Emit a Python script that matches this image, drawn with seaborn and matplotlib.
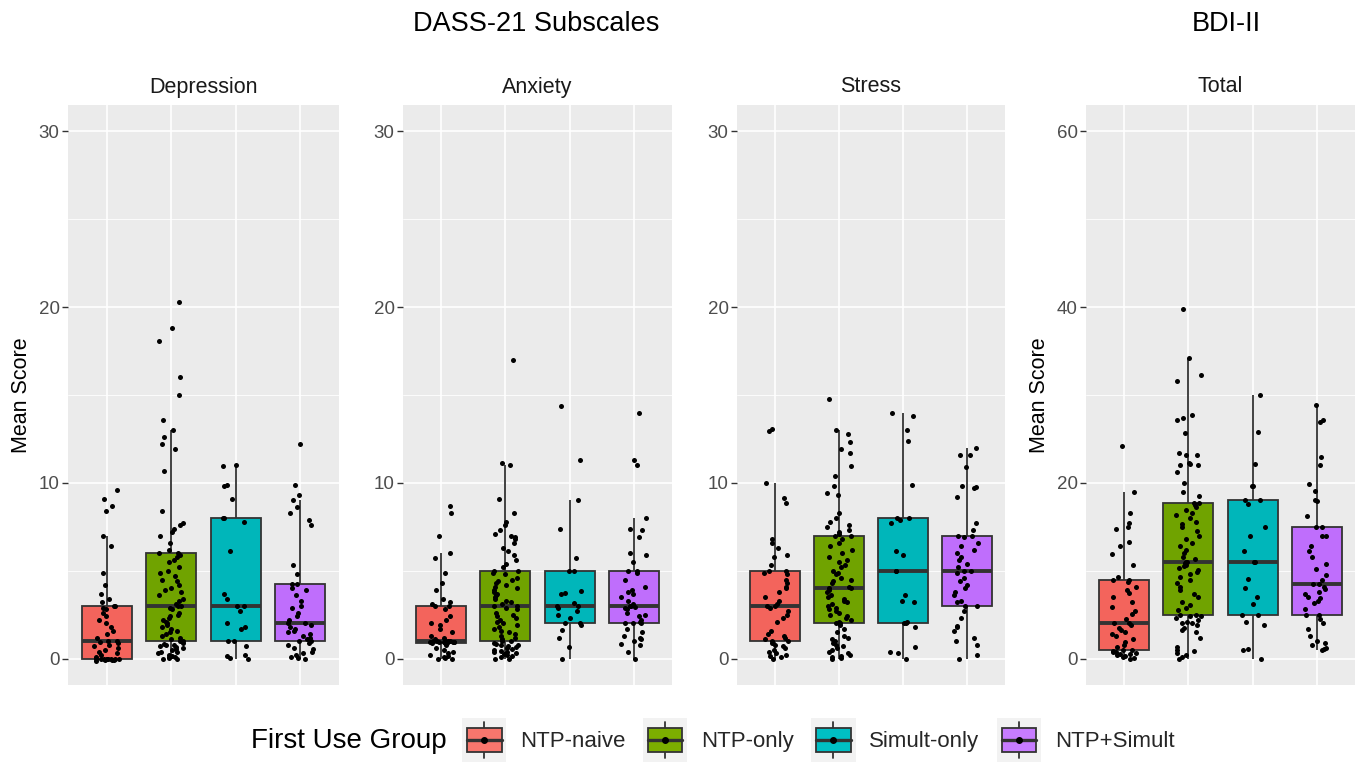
import numpy as np
import pandas as pd
import matplotlib
matplotlib.use("Agg")
import matplotlib.pyplot as plt
import seaborn as sns
from matplotlib.patches import Patch, Rectangle
from matplotlib.lines import Line2D
from matplotlib.legend_handler import HandlerBase

# groups / colours (ggplot default hue palette)
groups = ['NTP-naive', 'NTP-only', 'Simult-only', 'NTP+Simult']
colors = ['#F8766D', '#7CAE00', '#00BFC4', '#C77CFF']
box_colors = ['#F3645C', '#70A300', '#00B6BA', '#BF6EFC']

panels = ['Depression', 'Anxiety', 'Stress', 'Total']

# values (one list per panel and group)
dep_naive = [-0.12, -0.1, -0.08, -0.05, -0.03, 0.0, 0.0, 0.0, 0.0, 0.0, 0.0, 0.0, 0.0,
             0.1, 0.2, 0.3, 0.35, 0.5, 0.6, 0.7, 0.8, 0.9, 0.95, 1.0, 1.0,
             1.2, 1.4, 1.6, 1.8, 2.0, 2.2, 2.4, 2.6, 2.8, 2.9, 3.0, 3.0,
             3.2, 3.4, 3.7, 4.2, 4.9, 6.4, 7.0, 8.4, 8.7, 9.1, 9.6]
dep_only = [0.0, 0.0, 0.05, 0.1, 0.1, 0.15, 0.2, 0.3, 0.35, 0.4, 0.5, 0.55, 0.6, 0.65, 0.7, 0.75, 0.8, 0.85, 0.9,
            1.0, 1.0,
            1.1, 1.2, 1.3, 1.4, 1.5, 1.6, 1.7, 1.8, 1.9, 2.0, 2.1, 2.2, 2.3, 2.4, 2.5, 2.6, 2.8, 2.9,
            3.0, 3.0,
            3.1, 3.3, 3.4, 3.6, 3.8, 3.9, 4.0, 4.2, 4.4, 4.5, 4.7, 4.9, 5.0, 5.2, 5.5, 5.6, 5.8, 5.9,
            6.0, 6.0,
            6.2, 6.6, 7.0, 7.2, 7.4, 7.6, 7.7, 8.4, 10.7, 11.9, 12.2, 12.6, 13.0, 13.6, 15.0, 16.0, 18.1, 18.8, 20.3]
dep_simult = [0.0, 0.05, 0.15, 0.2, 0.7, 1.0, 1.0, 1.7, 1.8, 2.0, 2.7, 3.0, 3.0,
              3.4, 3.7, 6.1, 7.8, 8.0, 8.0, 9.1, 9.8, 9.9, 10.95, 11.0]
dep_both = [0.0, 0.05, 0.1, 0.2, 0.3, 0.4, 0.55, 0.6, 0.8, 0.9, 1.0, 1.0,
            1.1, 1.2, 1.3, 1.4, 1.5, 1.6, 1.7, 1.8, 1.9, 2.0, 2.0,
            2.2, 2.4, 2.6, 2.9, 3.0, 3.3, 3.6, 3.9, 4.0, 4.25, 4.25,
            4.8, 5.3, 7.6, 7.9, 8.3, 8.6, 9.0, 9.3, 9.9, 12.2]

anx_naive = [0.0, 0.0, 0.05, 0.1, 0.15, 0.2, 0.3, 0.4, 0.5, 0.6, 0.75, 0.9, 0.9,
             0.91, 0.92, 0.93, 0.94, 0.95, 0.96, 0.97, 0.98, 0.99, 0.99, 1.0, 1.0,
             1.1, 1.2, 1.3, 1.5, 1.7, 1.9, 2.0, 2.2, 2.4, 2.8, 3.0, 3.0,
             3.1, 3.2, 3.4, 3.9, 4.3, 4.9, 5.7, 6.0, 6.95, 8.3, 8.7]
anx_only = [0.0, 0.0, 0.1, 0.15, 0.2, 0.25, 0.3, 0.35, 0.4, 0.45, 0.5, 0.55, 0.6, 0.65, 0.7, 0.75, 0.8, 0.85, 0.9,
            1.0, 1.0,
            1.1, 1.2, 1.3, 1.4, 1.5, 1.6, 1.7, 1.8, 1.9, 2.0, 2.1, 2.2, 2.3, 2.4, 2.5, 2.6, 2.8, 2.9,
            3.0, 3.0,
            3.1, 3.2, 3.3, 3.4, 3.5, 3.6, 3.7, 3.8, 3.9, 4.0, 4.1, 4.2, 4.3, 4.4, 4.5, 4.6, 4.8, 4.9,
            5.0, 5.0,
            5.2, 5.4, 5.6, 5.9, 6.1, 6.3, 6.6, 6.8, 6.9, 7.0, 7.1, 7.3, 7.6, 7.8, 8.3, 9.1, 11.0, 11.15, 17.0]
anx_simult = [0.0, 0.65, 1.2, 1.65, 1.9, 2.0, 2.0, 2.3, 2.5, 2.7, 2.9, 3.0, 3.0,
              3.15, 3.65, 3.75, 3.85, 5.0, 5.0, 5.7, 7.35, 9.0, 11.3, 14.4]
anx_both = [0.0, 0.4, 0.8, 0.85, 1.0, 1.1, 1.2, 1.3, 1.5, 1.7, 2.0, 2.0,
            2.05, 2.1, 2.2, 2.4, 2.5, 2.6, 2.8, 2.9, 2.95, 3.0, 3.0,
            3.1, 3.3, 3.5, 3.7, 3.8, 3.9, 4.1, 4.5, 4.9, 5.0, 5.0,
            5.5, 5.9, 6.0, 6.9, 7.3, 7.4, 8.0, 11.0, 11.3, 14.0]

str_naive = [0.0, 0.1, 0.15, 0.2, 0.3, 0.35, 0.5, 0.6, 0.7, 0.8, 0.9, 1.0, 1.0,
             1.1, 1.2, 1.3, 1.4, 1.6, 2.1, 2.3, 2.5, 2.7, 2.9, 3.0, 3.0,
             3.1, 3.3, 3.5, 3.8, 4.0, 4.1, 4.3, 4.5, 4.8, 4.9, 5.0, 5.0,
             5.3, 5.8, 5.9, 6.3, 6.6, 6.8, 8.85, 9.15, 10.0, 12.97, 13.07]
str_only = [0.0, 0.05, 0.1, 0.15, 0.2, 0.3, 0.4, 0.5, 0.6, 0.7, 0.8, 0.9, 1.0, 1.1, 1.2, 1.3, 1.5, 1.7, 1.9,
            2.0, 2.0,
            2.1, 2.2, 2.3, 2.4, 2.5, 2.6, 2.7, 2.8, 2.9, 3.0, 3.1, 3.2, 3.3, 3.4, 3.5, 3.6, 3.8, 3.9,
            4.0, 4.0,
            4.1, 4.3, 4.4, 4.5, 4.6, 4.8, 4.9, 5.0, 5.2, 5.3, 5.5, 5.6, 5.8, 6.0, 6.2, 6.4, 6.6, 6.8,
            7.0, 7.0,
            7.1, 7.2, 7.3, 7.5, 7.6, 7.8, 8.0, 8.3, 9.3, 9.4, 9.8, 10.4, 10.95, 11.7, 11.9, 12.3, 12.8, 13.0, 14.8]
str_simult = [0.0, 0.3, 0.35, 0.65, 1.8, 2.0, 2.0, 2.1, 3.2, 3.3, 3.6, 5.0, 5.0,
              5.9, 6.1, 7.7, 7.9, 8.0, 8.0, 9.9, 12.4, 13.0, 13.8, 14.0]
str_both = [0.0, 0.2, 0.8, 1.0, 1.15, 1.6, 1.8, 1.85, 2.3, 2.7, 3.0, 3.0,
            3.2, 3.3, 3.6, 3.8, 4.0, 4.2, 4.4, 4.6, 4.9, 5.0, 5.0,
            5.2, 5.4, 5.6, 5.8, 6.0, 6.2, 6.4, 6.6, 6.9, 7.0, 7.0,
            7.3, 7.7, 9.2, 9.7, 9.75, 9.8, 10.9, 11.6, 11.6, 12.0]

bdi_naive = [0.0, 0.1, 0.2, 0.3, 0.4, 0.5, 0.5, 0.6, 0.7, 0.8, 0.9, 1.0, 1.0,
             1.3, 1.6, 1.9, 2.2, 2.6, 2.8, 3.0, 3.3, 3.5, 3.8, 4.0, 4.0,
             4.5, 5.1, 5.4, 5.9, 6.5, 7.0, 7.5, 7.8, 8.2, 8.7, 9.0, 9.0,
             9.3, 10.6, 11.9, 12.8, 13.3, 14.8, 15.0, 15.4, 16.6, 19.0, 24.2]
bdi_only = [0.0, 0.2, 0.4, 0.6, 0.9, 1.0, 1.3, 2.4, 3.0, 3.3, 3.5, 3.8, 4.0, 4.1, 4.2, 4.4, 4.6, 4.8, 4.9,
            5.0, 5.0,
            5.5, 5.8, 6.1, 6.5, 7.0, 7.3, 7.8, 8.2, 8.6, 9.0, 9.3, 9.6, 9.9, 10.1, 10.3, 10.5, 10.7, 10.9,
            11.0, 11.0,
            11.3, 11.6, 12.0, 12.4, 12.8, 13.2, 13.6, 14.0, 14.5, 15.0, 15.3, 15.6, 16.0, 16.3, 16.6, 16.9, 17.2, 17.5,
            17.7, 17.7,
            18.5, 19.0, 20.0, 21.2, 22.0, 22.0, 22.1, 22.3, 23.2, 23.2, 23.4, 25.7, 27.2, 27.4, 27.7, 31.6, 32.3, 34.2, 39.8]
bdi_simult = [0.0, 1.0, 1.1, 3.85, 4.2, 5.0, 5.0, 6.2, 7.05, 8.0, 9.05, 11.0, 11.0,
              12.2, 14.0, 15.0, 17.6, 18.0, 18.0, 19.7, 19.7, 22.2, 25.8, 30.0]
bdi_both = [1.0, 1.1, 1.2, 1.5, 1.8, 2.0, 2.6, 3.4, 4.0, 4.5, 5.0, 5.0,
            5.6, 6.3, 6.6, 6.9, 7.0, 7.3, 7.6, 7.9, 8.2, 8.5, 8.5,
            9.0, 9.5, 10.2, 10.8, 11.6, 12.2, 12.8, 13.9, 13.9, 15.0, 15.0,
            16.2, 17.9, 18.1, 19.1, 19.9, 22.0, 23.0, 26.9, 27.1, 28.9]

panel_values = {
    'Depression': [dep_naive, dep_only, dep_simult, dep_both],
    'Anxiety': [anx_naive, anx_only, anx_simult, anx_both],
    'Stress': [str_naive, str_only, str_simult, str_both],
    'Total': [bdi_naive, bdi_only, bdi_simult, bdi_both],
}

rows = []
for p in panels:
    for g, vals in zip(groups, panel_values[p]):
        for v in vals:
            rows.append({'panel': p, 'group': g, 'score': v})
df = pd.DataFrame(rows)

sns.set_theme(style='darkgrid')
plt.rcParams['font.family'] = ['Liberation Sans', 'DejaVu Sans']

np.random.seed(7)

W, H = 1362, 762
fig = plt.figure(figsize=(W / 100, H / 100), dpi=100)
fig.patch.set_facecolor('white')

# panel boxes in pixels (left, right)
panel_px = [(68, 339), (403, 672), (737, 1005), (1086, 1355)]
top_px, bot_px = 105, 685

for i, p in enumerate(panels):
    l, r = panel_px[i]
    ax = fig.add_axes([l / W, (H - bot_px) / H, (r - l) / W, (bot_px - top_px) / H])
    sub = df[df['panel'] == p]
    sns.boxplot(data=sub, x='group', y='score', hue='group', order=groups, hue_order=groups,
                palette=box_colors, saturation=1, width=0.78, dodge=False, showfliers=False,
                showcaps=False, linecolor='#333333', linewidth=1.3,
                medianprops={'linewidth': 2.8}, legend=False, ax=ax, zorder=2)
    sns.stripplot(data=sub, x='group', y='score', order=groups, color='black', size=3.6,
                  jitter=0.2, ax=ax, zorder=3)

    ax.set_facecolor('#EBEBEB')
    for s in ax.spines.values():
        s.set_visible(False)
    ax.set_xlim(-0.6, 3.6)
    if p == 'Total':
        ax.set_ylim(-3, 63)
        ax.set_yticks([0, 20, 40, 60])
        ax.set_yticks([10, 30, 50], minor=True)
    else:
        ax.set_ylim(-1.5, 31.5)
        ax.set_yticks([0, 10, 20, 30])
        ax.set_yticks([5, 15, 25], minor=True)
    ax.set_xticks([0, 1, 2, 3])
    ax.set_xticklabels([])
    ax.set_axisbelow(True)
    ax.grid(which='major', color='white', linewidth=1.2)
    ax.grid(which='minor', axis='y', color='white', linewidth=0.6)
    ax.tick_params(axis='x', length=0)
    ax.tick_params(axis='y', which='major', length=4, width=1, color='#333333',
                   labelcolor='#4D4D4D', labelsize=13.5, pad=2, left=True)
    ax.tick_params(axis='y', which='minor', length=0)
    ax.set_xlabel('')
    if i in (0, 3):
        ax.set_ylabel('Mean Score', fontsize=15.5, color='black', labelpad=5)
    else:
        ax.set_ylabel('')
    ax.set_title(p, fontsize=15.5, color='#1A1A1A', pad=9)

fig.text(536.5 / W, 1 - 24 / H, 'DASS-21 Subscales', ha='center', va='center', fontsize=19.5, color='black')
fig.text(1226 / W, 1 - 24 / H, 'BDI-II', ha='center', va='center', fontsize=19.5, color='black')


class BoxKey(HandlerBase):
    def create_artists(self, legend, orig_handle, xdescent, ydescent, width, height, fontsize, trans):
        x0, y0 = -xdescent, -ydescent
        col = orig_handle.get_facecolor()
        cx = x0 + width / 2
        cy = y0 + 0.5 * height
        bg = Rectangle((x0, y0), width, height, facecolor='#F2F2F2', edgecolor='none', transform=trans)
        wh = Line2D([cx, cx], [y0 + 0.1 * height, y0 + 0.9 * height], color='#333333', lw=1.3, transform=trans)
        box = Rectangle((x0 + 0.11 * width, y0 + 0.24 * height), 0.78 * width, 0.52 * height,
                        facecolor=col, edgecolor='#333333', lw=1.3, transform=trans)
        med = Line2D([x0 + 0.11 * width, x0 + 0.89 * width], [cy, cy], color='#333333', lw=2.4, transform=trans)
        dot = Line2D([cx], [cy], marker='o', ms=4, color='black', ls='none', transform=trans)
        return [bg, wh, box, med, dot]


handles = [Patch(facecolor=c) for c in colors]
fig.text(251 / W, (H - 741) / H, 'First Use Group', ha='left', va='center', fontsize=20, color='black')
fig.legend(handles, groups, handler_map={Patch: BoxKey()}, loc='center left',
           bbox_to_anchor=(462 / W, (H - 740) / H), ncol=4, frameon=False, fontsize=16,
           handlelength=2.0, handleheight=2.7, handletextpad=0.6, columnspacing=0.8,
           borderpad=0, borderaxespad=0)

fig.savefig('out.png', dpi=100)
